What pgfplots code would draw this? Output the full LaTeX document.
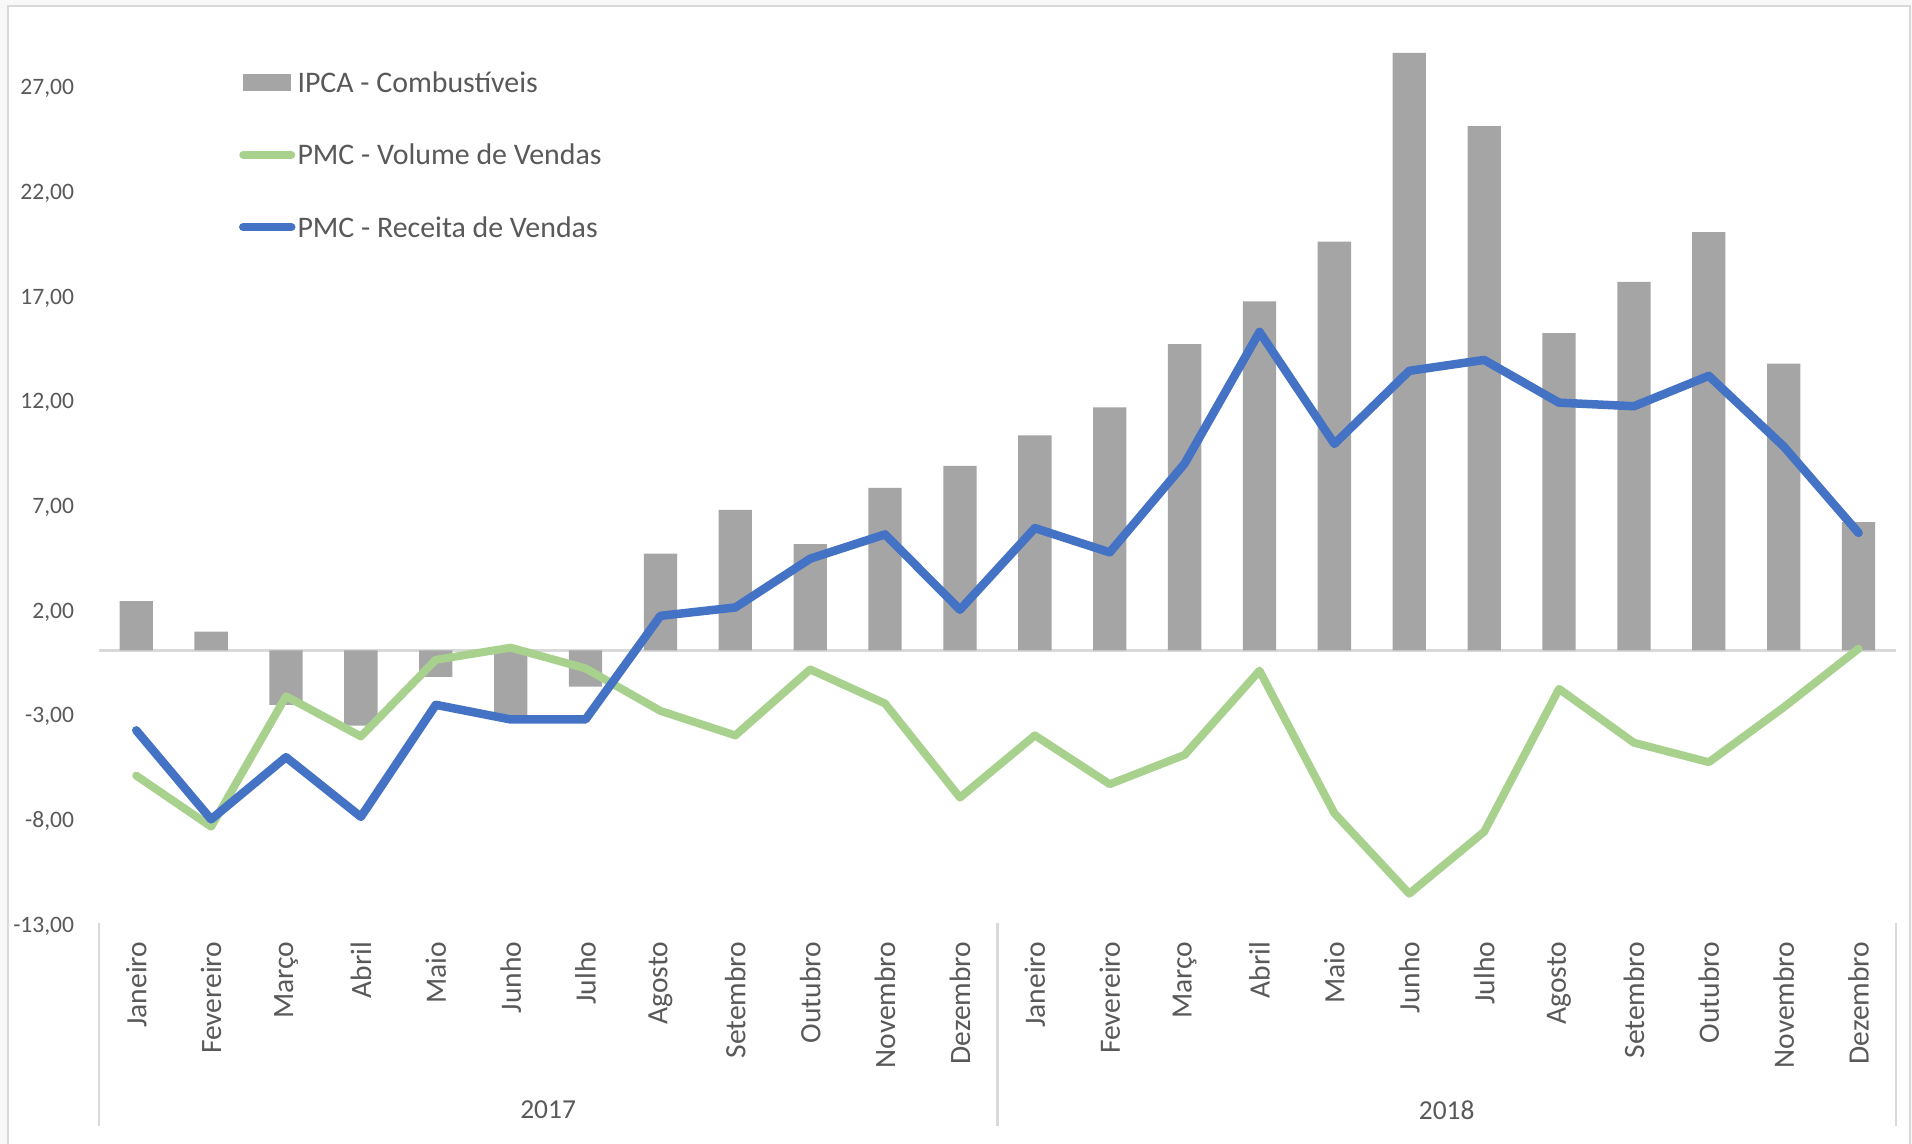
\documentclass[border=0pt]{standalone}
\usepackage{pgfplots}
\pgfplotsset{compat=1.18}
\usepackage{fontspec}
\setmainfont{Carlito}
\definecolor{barc}{HTML}{A5A5A5}
\definecolor{greenc}{HTML}{A9D18E}
\definecolor{bluec}{HTML}{4472C4}
\definecolor{txt}{HTML}{595959}
\definecolor{axc}{HTML}{D9D9D9}
\definecolor{outer}{HTML}{F8F8F8}
\begin{document}
\begin{tikzpicture}
\useasboundingbox (0,0) rectangle (191.2mm,114.4mm);
\fill[outer] (0,0) rectangle (191.2mm,114.4mm);
\fill[white,draw=axc,line width=0.2mm] (0.77mm,-1mm) rectangle (191.0mm,113.8mm);
\begin{axis}[
  at={(9.88mm,22.14mm)}, anchor=south west,
  scale only axis, width=179.72mm, height=90.04mm,
  xmin=-0.5, xmax=23.5, ymin=-13, ymax=30,
  clip=false,
  axis line style={draw=none},
  major tick length=0pt,
  xtick={0,...,23},
  xticklabels={Janeiro,Fevereiro,Março,Abril,Maio,Junho,Julho,Agosto,Setembro,Outubro,Novembro,Dezembro,Janeiro,Fevereiro,Março,Abril,Maio,Junho,Julho,Agosto,Setembro,Outubro,Novembro,Dezembro},
  xticklabel style={yshift=-1.84mm, rotate=90, anchor=east, inner sep=0pt, font=\fontsize{8.4}{10}\selectfont, text=txt},
  ytick={-13,-8,-3,2,7,12,17,22,27},
  yticklabels={{-13,00},{-8,00},{-3,00},{2,00},{7,00},{12,00},{17,00},{22,00},{27,00}},
  yticklabel style={inner sep=0pt, xshift=-2.4mm, yshift=-0.35mm, anchor=east, font=\fontsize{6.7}{8}\selectfont, text=txt},
  legend cell align=left,
  legend style={at={(rel axis cs:0,1)}, anchor=north west, xshift=13.95mm, yshift=-4.95mm,
    draw=none, fill=none, inner sep=0pt, row sep=4.75mm, column sep=0.2mm,
    font=\fontsize{8.5}{10}\selectfont, text=txt,
    nodes={inner sep=0pt, text height=2mm, text depth=0.5mm}},
  legend image code/.code={\draw[#1, line cap=round] (0mm,0.27mm) -- (4.8mm,0.27mm);},
]
\draw[axc, line width=0.25mm] (axis cs:-0.5,0) -- (axis cs:23.5,0);
\addplot[ybar, bar width=3.33mm, fill=barc, draw=none,
  legend image code/.code={\fill[barc] (0mm,-0.63mm) rectangle (4.8mm,1.12mm);}]
  coordinates {
  (0,2.35) (1,0.89) (2,-2.60) (3,-3.59) (4,-1.26) (5,-3.13) (6,-1.73) (7,4.62)
  (8,6.71) (9,5.08) (10,7.76) (11,8.81) (12,10.27) (13,11.61) (14,14.63) (15,16.67)
  (16,19.52) (17,28.54) (18,25.04) (19,15.15) (20,17.60) (21,19.98) (22,13.70) (23,6.13)};
\addlegendentry{IPCA - Combustíveis}
\addplot[greenc, line width=0.8mm, line join=round, line cap=round] coordinates {
  (0,-5.98) (1,-8.42) (2,-2.19) (3,-4.11) (4,-0.45) (5,0.13) (6,-0.86) (7,-2.89)
  (8,-4.06) (9,-0.91) (10,-2.54) (11,-7.03) (12,-4.06) (13,-6.39) (14,-4.99) (15,-0.97)
  (16,-7.78) (17,-11.62) (18,-8.66) (19,-1.84) (20,-4.41) (21,-5.34) (22,-2.72) (23,0.08)};
\addlegendentry{PMC - Volume de Vendas}
\addplot[bluec, line width=0.85mm, line join=round, line cap=round] coordinates {
  (0,-3.82) (1,-8.07) (2,-5.10) (3,-7.95) (4,-2.60) (5,-3.30) (6,-3.30) (7,1.65)
  (8,2.05) (9,4.38) (10,5.54) (11,1.94) (12,5.84) (13,4.68) (14,8.92) (15,15.21)
  (16,9.86) (17,13.35) (18,13.87) (19,11.83) (20,11.66) (21,13.11) (22,9.74) (23,5.61)};
\addlegendentry{PMC - Receita de Vendas}
\draw[axc, line width=0.25mm] (axis cs:-0.5,-13) -- (axis cs:-0.5,-22.69);
\draw[axc, line width=0.25mm] (axis cs:11.5,-13) -- (axis cs:11.5,-22.69);
\draw[axc, line width=0.25mm] (axis cs:23.5,-13) -- (axis cs:23.5,-22.69);
\node[font=\fontsize{7.8}{9}\selectfont, text=txt] at (axis cs:5.5,-21.95) {2017};
\node[font=\fontsize{7.8}{9}\selectfont, text=txt] at (axis cs:17.5,-21.95) {2018};
\end{axis}
\end{tikzpicture}
\end{document}
